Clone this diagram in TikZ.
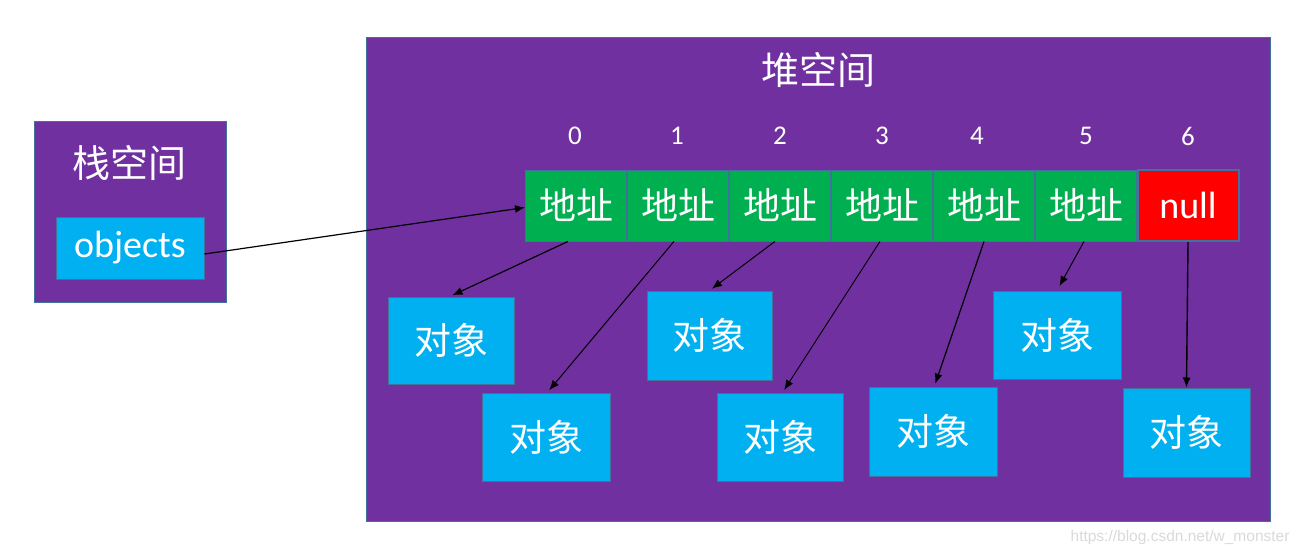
\documentclass[tikz,border=0pt]{standalone}
\usepackage{fontspec}
\setmainfont{Carlito}
\newfontfamily\cjk{Noto Sans CJK SC}
\newfontfamily\wmfont{Liberation Sans}
\usetikzlibrary{calc,arrows.meta}
\definecolor{heappurple}{HTML}{7030A0}
\definecolor{cellgreen}{HTML}{00B050}
\definecolor{objblue}{HTML}{00B0F0}
\definecolor{nullred}{HTML}{FF0000}
\definecolor{edgeblue}{HTML}{41719C}
\definecolor{wmgray}{HTML}{D9D9D9}
\tikzset{
  panel/.style={draw=edgeblue, line width=1pt, fill=heappurple, inner sep=0pt},
  cellbox/.style={draw=edgeblue, line width=1pt, fill=cellgreen, inner sep=0pt,
    minimum width=101pt, minimum height=71pt, text=white,
    font=\cjk\fontsize{37}{40}\selectfont},
  nullbox/.style={cellbox, fill=nullred, line width=2pt, font=\fontsize{38}{40}\selectfont},
  objbox/.style={draw=edgeblue, line width=1pt, fill=objblue, inner sep=0pt,
    text=white, font=\cjk\fontsize{37}{40}\selectfont},
  titletext/.style={text=white, font=\cjk\fontsize{38}{40}\selectfont},
  idxtext/.style={text=white, font=\fontsize{27}{30}\selectfont},
  ptr/.style={draw=black, line width=1.2pt, -{Latex[length=10pt,width=8pt]}, shorten >=3pt}
}
\begin{document}
\begin{tikzpicture}[x=1pt,y=-1pt]
\useasboundingbox (0,0) rectangle (1303,555);
% stack space
\node[panel, minimum width=192pt, minimum height=181pt] (stack) at (130,211.5) {};
\node[titletext] (stacktitle) at (129,163) {栈空间};
\node[objbox, minimum width=148pt, minimum height=62pt,
  font=\fontsize{38}{40}\selectfont] (ob) at (130,248) {objects};
% heap space
\node[panel, minimum width=904pt, minimum height=484pt] (heap) at (818,279) {};
\node[titletext] (heaptitle) at (818,70) {堆空间};
% indices
\node[idxtext] (i0) at (575,136) {0};
\node[idxtext] (i1) at (677,136) {1};
\node[idxtext] (i2) at (780,136) {2};
\node[idxtext] (i3) at (882,136) {3};
\node[idxtext] (i4) at (977,136) {4};
\node[idxtext] (i5) at (1086,136) {5};
\node[idxtext] (i6) at (1188,136) {6};
% cells
\node[cellbox] (c0) at (576,205.5) {地址};
\node[cellbox] (c1) at (678,205.5) {地址};
\node[cellbox] (c2) at (780,205.5) {地址};
\node[cellbox] (c3) at (882,205.5) {地址};
\node[cellbox] (c4) at (984,205.5) {地址};
\node[cellbox] (c5) at (1086,205.5) {地址};
\node[nullbox] (c6) at (1188,205.5) {null};
% objects
\node[objbox, minimum width=126pt, minimum height=87pt] (oA) at (451,340.5) {对象};
\node[objbox, minimum width=128pt, minimum height=88pt] (oB) at (546,437) {对象};
\node[objbox, minimum width=125pt, minimum height=89pt] (oC) at (709.5,335.5) {对象};
\node[objbox, minimum width=126pt, minimum height=88pt] (oD) at (780,437) {对象};
\node[objbox, minimum width=128pt, minimum height=89pt] (oE) at (933,431.5) {对象};
\node[objbox, minimum width=128pt, minimum height=88pt] (oF) at (1057,335) {对象};
\node[objbox, minimum width=127pt, minimum height=89pt] (oG) at (1186.5,432.5) {对象};
% pointers
\draw[ptr, shorten >=0pt] ([yshift=-6pt]ob.east) -- ([yshift=-2pt]c0.west);
\draw[ptr] ($(c0.south west)!0.42!(c0.south east)$) -- ($(oA.north west)!0.49!(oA.north east)$);
\draw[ptr, line width=1pt] ($(c1.south west)!0.46!(c1.south east)$) -- ($(oB.north west)!0.51!(oB.north east)$);
\draw[ptr, line width=1pt] ($(c2.south west)!0.45!(c2.south east)$) -- ($(oC.north west)!0.5!(oC.north east)$);
\draw[ptr, line width=0.9pt] ($(c3.south west)!0.48!(c3.south east)$) -- ($(oD.north west)!0.52!(oD.north east)$);
\draw[ptr] ($(c4.south west)!0.5!(c4.south east)$) -- ($(oE.north west)!0.51!(oE.north east)$);
\draw[ptr, line width=1pt, shorten >=5pt] ($(c5.south west)!0.48!(c5.south east)$) -- ($(oF.north west)!0.5!(oF.north east)$);
\draw[ptr, line width=1.4pt, shorten >=0pt] (c6.south) -- (oG.north);
% watermark
\node[text=wmgray, font=\wmfont\fontsize{15.5}{17}\selectfont, anchor=east] (wm) at (1293,537) {https://blog.csdn.net/w\_monster};
\end{tikzpicture}
\end{document}
